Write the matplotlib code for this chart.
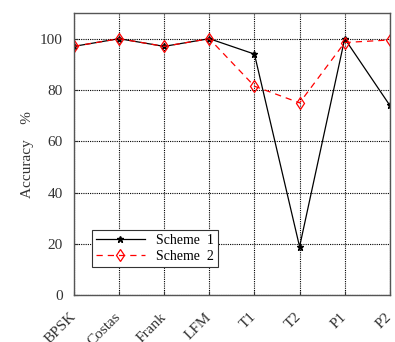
import matplotlib
matplotlib.use("Agg")
import matplotlib.pyplot as plt
from matplotlib.transforms import ScaledTranslation

# categories and accuracy values
signals = ["BPSK", "Costas", "Frank", "LFM", "T1", "T2", "P1", "P2"]
scheme1 = [97.0, 100.0, 97.0, 100.0, 94.0, 19.0, 100.0, 74.0]
scheme2 = [97.0, 100.0, 97.0, 100.0, 81.5, 75.0, 98.5, 99.5]
yticks = [0, 20, 40, 60, 80, 100]

plt.rcParams['font.family'] = ['Liberation Serif', 'DejaVu Serif']

fig = plt.figure(figsize=(3.95, 3.42), dpi=100)
ax = fig.add_axes([0.187, 0.136, 0.800, 0.826])

x = list(range(len(signals)))
ax.plot(x, scheme1, color='black', lw=0.9, marker='*', ms=5,
        label='Scheme  1')
ax.plot(x, scheme2, color='red', lw=0.9, ls=(0, (5, 4)), marker='d', ms=6,
        mfc='none', mec='red', mew=0.9, label='Scheme  2')

ax.set_xlim(0, len(signals) - 1)
ax.set_ylim(0, 110)
ax.set_yticks(yticks)
ax.set_xticks(x)
ax.set_xticklabels(signals, rotation=45, ha='right', va='center',
                   rotation_mode='anchor')
shift = ScaledTranslation(6 / 100, 0, fig.dpi_scale_trans)
for lab in ax.get_xticklabels():
    lab.set_transform(lab.get_transform() + shift)
ax.tick_params(axis='both', direction='in', length=3, labelsize=11,
               colors='#333333')
ax.tick_params(axis='x', pad=14)
ax.tick_params(axis='y', pad=8)

ax.grid(True, color='black', ls=(0, (1, 1)), lw=0.8)
for s in ax.spines.values():
    s.set_color('#555555')
    s.set_linewidth(1.0)

ax.set_ylabel('Accuracy    %', fontsize=11, color='#333333', labelpad=4)

leg = ax.legend(loc='lower left', bbox_to_anchor=(0.057, 0.10),
                borderaxespad=0, fontsize=10, fancybox=False, framealpha=1,
                handlelength=3.5, labelspacing=0.2, borderpad=0.3)
leg.get_frame().set_edgecolor('#333333')
leg.get_frame().set_linewidth(0.8)

plt.savefig('out.png', dpi=100)
